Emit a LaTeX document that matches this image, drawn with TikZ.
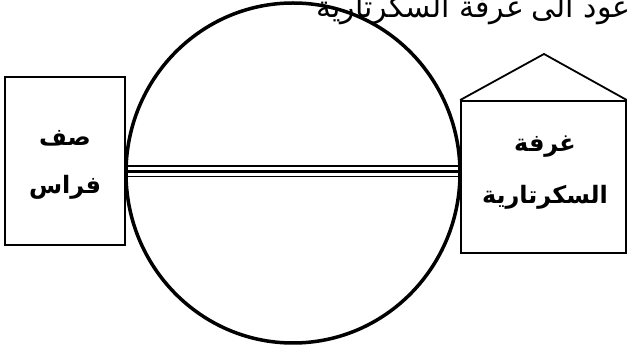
\documentclass[tikz,border=0pt]{standalone}
\usepackage{fontspec}
\newfontfamily\arabicfont[Script=Arabic]{DejaVu Sans}
\TeXXeTstate=1
\usetikzlibrary{shapes.geometric}
\usetikzlibrary{positioning}

\begin{document}
\begin{tikzpicture}[
		x=1pt,
		y=-1pt,
		room node/.style={draw, line width=1.8pt, rectangle, inner sep=0pt},
		hall node/.style={draw, line width=3.5pt, ellipse, inner sep=0pt,
			minimum width=334pt, minimum height=340pt},
		label node/.style={font=\arabicfont\bfseries\fontsize{24}{28}\selectfont},
		note node/.style={font=\arabicfont\fontsize{30}{34}\selectfont}
		]
		
		\useasboundingbox (0,0) rectangle (627,347);
		
		\node[hall node] (hall) at (293,173) {};
		\node[room node, minimum width=120pt, minimum height=168pt] (class) at (65,161) {};
		\node[room node, minimum width=165pt, minimum height=152pt] (office) at (543.5,177) {};
		\coordinate (roof) at (544,54);
		
		\draw[line width=1.8pt, line join=miter] (office.north west) -- (roof) -- (office.north east);
		
		% corridor across the hall
		\draw[line width=1.2pt] ([yshift=7pt]hall.west) -- ([yshift=7pt]hall.east);
		\draw[line width=3.5pt] ([yshift=1.5pt]hall.west) -- ([yshift=1.5pt]hall.east);
		\draw[line width=1.2pt] ([yshift=-3.5pt]hall.west) -- ([yshift=-3.5pt]hall.east);
		
		\node[label node] (classa) at (65,138) {\beginR صف\endR};
		\node[label node] (classb) [below=22pt of classa] {\beginR فراس\endR};
		\node[label node] (officea) at (545,147) {\beginR غرفة\endR};
		\node[label node] (officeb) [below=20pt of officea] {\beginR السكرتارية\endR};
		
		\node[note node, anchor=east] (note) at (634,10) {\beginR عود الى غرفة السكرتارية\endR};
	\end{tikzpicture}
\end{document}
